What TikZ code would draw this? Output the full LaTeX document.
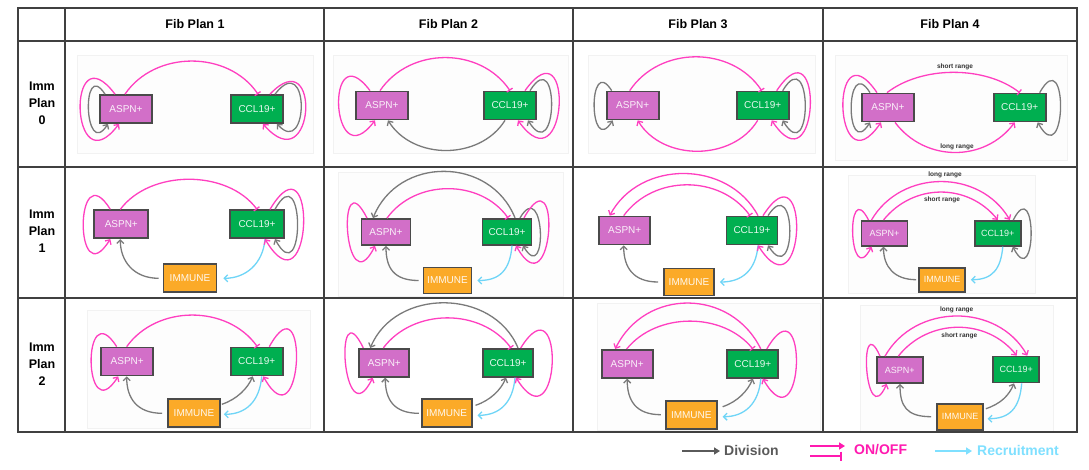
\documentclass[tikz,border=0pt]{standalone}
\usepackage{fontspec}
\setmainfont{Liberation Sans}
\usetikzlibrary{arrows.meta}
\definecolor{aspnc}{HTML}{D26FC8}
\definecolor{cclc}{HTML}{00AF50}
\definecolor{immc}{HTML}{FBAA28}
\definecolor{bordc}{HTML}{4A4A4A}
\definecolor{pinkc}{HTML}{FF3FC0}
\definecolor{divc}{HTML}{7A7A7A}
\definecolor{recc}{HTML}{6FD5F7}
\definecolor{divtext}{HTML}{5A5A5A}
\definecolor{ontext}{HTML}{FF1AB0}
\definecolor{rectext}{HTML}{7FE0FF}
\tikzset{
 box/.style={draw=bordc, line width=1.7pt, minimum width=52pt, minimum height=28pt, inner sep=1pt, font=\fontsize{10}{11}\selectfont},
 aspn/.style={box, fill=aspnc, text=white!90!aspnc},
 ccl/.style={box, fill=cclc, text=white!90!cclc},
 imm/.style={box, fill=immc, text=white!92!immc},
 sm/.style={minimum width=46pt, minimum height=25pt, font=\fontsize{9}{10}\selectfont},
 div/.style={draw=divc, line width=1.3pt, -{Straight Barb[length=3.5pt,width=7pt]}},
 onbar/.style={draw=pinkc, line width=1.3pt, -{Bar[width=7pt]}},
 onarr/.style={draw=pinkc, line width=1.3pt, -{Straight Barb[length=3.5pt,width=7pt]}},
 rec/.style={draw=recc, line width=1.3pt, -{Straight Barb[length=3.5pt,width=7pt]}},
 rng/.style={font=\bfseries\fontsize{6.5}{7}\selectfont, text=black!80, inner sep=0pt},
 hdr/.style={font=\bfseries\fontsize{12.5}{17}\selectfont, align=center},
 frame/.style={draw=black!5, fill=black!0.8, line width=0.5pt},
 grid/.style={draw=black!75, line width=1.2pt},
 leg/.style={font=\bfseries\fontsize{14}{16}\selectfont, anchor=west, inner sep=1pt},
 legarr/.style={line width=2pt, -{Triangle[length=6pt,width=7pt]}},
}
\begin{document}
\begin{tikzpicture}[x=1pt,y=-1pt]
\useasboundingbox (0,0) rectangle (1089,469);
\fill[white] (0,0) rectangle (1089,469);
% faint pasted-image frames
\path[frame] (77,55) rectangle (313,153);
\path[frame] (333,55) rectangle (568,153);
\path[frame] (588,55) rectangle (815,153);
\path[frame] (835,55) rectangle (1067,160);
\path[frame] (338,172) rectangle (563,296);
\path[frame] (848,175) rectangle (1035,293);
\path[frame] (87,310) rectangle (310,428);
\path[frame] (597,303) rectangle (820,430);
\path[frame] (860,305) rectangle (1053,431);
% table
\draw[grid] (18,8) rectangle (1077,432);
\draw[grid] (18,41) -- (1077,41) (18,167) -- (1077,167) (18,298) -- (1077,298);
\draw[grid] (65,8) -- (65,432) (324,8) -- (324,432) (573,8) -- (573,432) (823,8) -- (823,432);
% headers
\node[hdr] (h1) at (195,24.5) {Fib Plan 1};
\node[hdr] (h2) at (448.5,24.5) {Fib Plan 2};
\node[hdr] (h3) at (698,24.5) {Fib Plan 3};
\node[hdr] (h4) at (950,24.5) {Fib Plan 4};
\node[hdr] (r0) at (42,103.5) {Imm\\Plan\\0};
\node[hdr] (r1) at (42,231) {Imm\\Plan\\1};
\node[hdr] (r2) at (42,364) {Imm\\Plan\\2};
% ---------- row 0 ----------
% c1
\node[aspn] (a01) at (126,109) {ASPN+};
\node[ccl] (c01) at (257,109) {CCL19+};
\draw[onbar] ([xshift=-1pt]a01.north) .. controls +(30,-44) and +(-30,-44) .. ([xshift=1pt]c01.north);
\draw[div] ([xshift=-21pt]a01.north) .. controls +(-24,-37) and +(-24,37) .. ([xshift=-18pt]a01.south);
\draw[onarr] ([xshift=-11pt]a01.north) .. controls +(-49,-65) and +(-49,65) .. ([xshift=-7pt]a01.south);
\draw[div] ([xshift=18pt]c01.north) .. controls +(35,-45) and +(32,35) .. ([xshift=20pt]c01.south);
\draw[onarr] ([xshift=13pt]c01.north) .. controls +(52,-55) and +(52,60) .. ([xshift=6pt]c01.south);
% c2
\node[aspn] (a02) at (382,105.5) {ASPN+};
\node[ccl] (c02) at (510,105.5) {CCL19+};
\draw[onbar] ([xshift=-2pt]a02.north) .. controls +(30,-44) and +(-30,-44) .. (c02.north);
\draw[div] ([xshift=-5pt]c02.south) .. controls +(-25,40) and +(25,40) .. ([xshift=6pt]a02.south);
\draw[onarr] ([xshift=-12pt]a02.north) .. controls +(-45,-60) and +(-45,60) .. ([xshift=-7pt]a02.south);
\draw[div] ([xshift=20pt]c02.north) .. controls +(30,-48) and +(30,48) .. ([xshift=18pt]c02.south);
\draw[onarr] ([xshift=15pt]c02.north) .. controls +(50,-70) and +(50,70) .. ([xshift=8pt]c02.south);
% c3
\node[aspn] (a03) at (632.7,105.5) {ASPN+};
\node[ccl] (c03) at (762.7,105.5) {CCL19+};
\draw[onbar] ([xshift=-3pt]a03.north) .. controls +(30,-45) and +(-30,-45) .. ([xshift=-1pt]c03.north);
\draw[onarr] ([xshift=-5pt]c03.south) .. controls +(-25,41) and +(25,41) .. ([xshift=5pt]a03.south);
\draw[div] ([xshift=-21pt]a03.north) .. controls +(-24,-38) and +(-24,38) .. ([xshift=-20pt]a03.south);
\draw[div] ([xshift=20pt]c03.north) .. controls +(30,-50) and +(30,50) .. ([xshift=20pt]c03.south);
\draw[onarr] ([xshift=14pt]c03.north) .. controls +(48,-72) and +(48,72) .. ([xshift=9pt]c03.south);
% c4
\node[aspn] (a04) at (888,107.5) {ASPN+};
\node[ccl] (c04) at (1019.7,107.5) {CCL19+};
\draw[onbar] ([xshift=-1pt]a04.north) .. controls +(35,-27) and +(-35,-27) .. (c04.north);
\node[rng] (s04) at (955,67) {short range};
\draw[onarr] ([xshift=7pt]a04.south) .. controls +(30,40) and +(-30,40) .. ([xshift=-5pt]c04.south);
\node[rng] (l04) at (957,147) {long range};
\draw[div] ([xshift=-18pt]a04.north) .. controls +(-25,-40) and +(-25,40) .. ([xshift=-18pt]a04.south);
\draw[onarr] ([xshift=-11pt]a04.north) .. controls +(-48,-70) and +(-48,70) .. ([xshift=-7pt]a04.south);
\draw[div] ([xshift=20pt]c04.north) .. controls +(29,-52) and +(29,52) .. ([xshift=18pt]c04.south);
% ---------- row 1 ----------
% c1
\node[aspn, minimum width=54pt] (a11) at (121.3,224.2) {ASPN+};
\node[ccl, minimum width=54pt] (c11) at (257,224.2) {CCL19+};
\node[imm, minimum width=53pt] (i11) at (190,278.3) {IMMUNE};
\draw[onbar] ([xshift=-1pt]a11.north) .. controls +(30,-40) and +(-30,-40) .. (c11.north);
\draw[onarr] ([xshift=-11pt]a11.north) .. controls +(-36,-58) and +(-36,58) .. ([xshift=-11pt]a11.south);
\draw[div] ([xshift=-4pt]i11.west) .. controls +(-25,0) and +(0,22) .. ([xshift=-1pt]a11.south);
\draw[rec] ([xshift=8pt]c11.south) .. controls +(-2,25) and +(22,0) .. ([xshift=6pt]i11.east);
\draw[div] ([xshift=18pt]c11.north) .. controls +(30,-55) and +(30,55) .. ([xshift=18pt]c11.south);
\draw[onarr] ([xshift=13pt]c11.north) .. controls +(48,-80) and +(48,80) .. ([xshift=8pt]c11.south);
% c2
\node[aspn, minimum width=49pt, minimum height=26pt] (a12) at (386,232) {ASPN+};
\node[ccl, minimum width=49pt, minimum height=26pt] (c12) at (507,231.7) {CCL19+};
\node[imm, minimum width=48pt, minimum height=26pt] (i12) at (447.5,280.5) {IMMUNE};
\draw[div] ([xshift=8pt]c12.north) .. controls +(-25,-62) and +(25,-62) .. ([xshift=-13pt]a12.north);
\draw[onbar] ([xshift=1pt]a12.north) .. controls +(28,-39) and +(-28,-39) .. ([xshift=1pt]c12.north);
\draw[onarr] ([xshift=-19pt]a12.north) .. controls +(-31,-62) and +(-31,62) .. ([xshift=-11pt]a12.south);
\draw[div] ([xshift=-4pt]i12.west) .. controls +(-25,0) and +(0,22) .. (a12.south);
\draw[rec] ([xshift=5pt]c12.south) .. controls +(-2,25) and +(22,0) .. ([xshift=5pt]i12.east);
\draw[div] ([xshift=13pt]c12.north) .. controls +(25,-42) and +(25,42) .. ([xshift=16pt]c12.south);
\draw[onarr] ([xshift=17pt]c12.north) .. controls +(38,-68) and +(38,68) .. ([xshift=9pt]c12.south);
% c3
\node[aspn, minimum width=51pt] (a13) at (624.7,230.5) {ASPN+};
\node[ccl, minimum width=51pt] (c13) at (752,230.5) {CCL19+};
\node[imm, minimum width=50pt, minimum height=27pt] (i13) at (689,282) {IMMUNE};
\draw[onarr] ([xshift=6pt]c13.north) .. controls +(-30,-56) and +(30,-56) .. ([xshift=-15pt]a13.north);
\draw[onbar] ([xshift=-1pt]a13.north) .. controls +(30,-41) and +(-30,-41) .. ([xshift=-2pt]c13.north);
\draw[div] ([xshift=-5pt]i13.west) .. controls +(-25,0) and +(0,22) .. ([xshift=-1pt]a13.south);
\draw[rec] ([xshift=6pt]c13.south) .. controls +(-2,25) and +(22,0) .. ([xshift=5pt]i13.east);
\draw[div] ([xshift=16pt]c13.north) .. controls +(29,-45) and +(29,45) .. ([xshift=16pt]c13.south);
\draw[onarr] ([xshift=11pt]c13.north) .. controls +(48,-75) and +(48,75) .. ([xshift=6pt]c13.south);
% c4
\node[aspn, sm] (a14) at (884.5,233.3) {ASPN+};
\node[ccl, sm] (c14) at (997.8,233.3) {CCL19+};
\node[imm, sm, minimum height=24pt] (i14) at (942,279.7) {IMMUNE};
\draw[onarr] ([xshift=-13pt]a14.north) .. controls +(30,-51) and +(-30,-51) .. ([xshift=12pt]c14.north);
\node[rng] (l14) at (945,175) {long range};
\draw[onarr] ([xshift=-1pt]a14.north) .. controls +(30,-37) and +(-30,-37) .. (c14.north);
\node[rng] (s14) at (942,200) {short range};
\draw[onarr] ([xshift=-16pt]a14.north) .. controls +(-23,-45) and +(-23,45) .. ([xshift=-13pt]a14.south);
\draw[div] ([xshift=-2pt]i14.west) .. controls +(-22,0) and +(0,20) .. ([xshift=-1pt]a14.south);
\draw[rec] ([xshift=5pt]c14.south) .. controls +(-2,22) and +(22,0) .. ([xshift=5pt]i14.east);
\draw[div] ([xshift=15.5pt]c14.north) .. controls +(24,-47) and +(24,47) .. ([xshift=15pt]c14.south);
% ---------- row 2 ----------
% c1
\node[aspn] (a21) at (127.2,361.5) {ASPN+};
\node[ccl] (c21) at (256.7,361.5) {CCL19+};
\node[imm] (i21) at (194,413.3) {IMMUNE};
\draw[onbar] ([xshift=-0.5pt]a21.north) .. controls +(30,-42) and +(-30,-42) .. ([xshift=0.6pt]c21.north);
\draw[onarr] ([xshift=-10.5pt]a21.north) .. controls +(-35,-55) and +(-35,55) .. ([xshift=-9pt]a21.south);
\draw[div] ([xshift=-5pt]i21.west) .. controls +(-25,0) and +(0,22) .. ([xshift=-0.5pt]a21.south);
\draw[div] ([xshift=1pt,yshift=9pt]i21.east) .. controls +(15,-5) and +(-5,12) .. ([xshift=-4pt]c21.south);
\draw[rec] ([xshift=5pt]c21.south) .. controls +(-2,25) and +(22,0) .. ([xshift=3pt,yshift=-1pt]i21.east);
\draw[onarr] ([xshift=12.6pt]c21.north) .. controls +(40,-72) and +(40,72) .. ([xshift=6.6pt]c21.south);
% c2
\node[aspn, minimum width=50pt] (a22) at (384.3,362.8) {ASPN+};
\node[ccl, minimum width=50pt] (c22) at (508,362.8) {CCL19+};
\node[imm, minimum width=50pt] (i22) at (446.7,413.3) {IMMUNE};
\draw[div] ([xshift=10pt]c22.north) .. controls +(-25,-60) and +(25,-60) .. ([xshift=-14pt]a22.north);
\draw[onbar] ([xshift=-1pt]a22.north) .. controls +(30,-40) and +(-30,-40) .. ([xshift=3pt]c22.north);
\draw[onarr] ([xshift=-21pt]a22.north) .. controls +(-30,-62) and +(-30,62) .. ([xshift=-11.6pt]a22.south);
\draw[div] ([xshift=-2pt]i22.west) .. controls +(-25,0) and +(0,22) .. ([xshift=1pt]a22.south);
\draw[div] ([xshift=3pt,yshift=8pt]i22.east) .. controls +(15,-5) and +(-5,12) .. ([xshift=-2pt]c22.south);
\draw[rec] ([xshift=7pt]c22.south) .. controls +(-2,25) and +(22,0) .. ([xshift=5pt,yshift=-2pt]i22.east);
\draw[onarr] ([xshift=12.7pt]c22.north) .. controls +(45,-72) and +(45,72) .. ([xshift=8pt]c22.south);
% c3
\node[aspn, minimum width=51pt] (a23) at (627.2,363.8) {ASPN+};
\node[ccl, minimum width=51pt] (c23) at (752.8,363.8) {CCL19+};
\node[imm, minimum width=51pt] (i23) at (691.3,414.7) {IMMUNE};
\draw[onarr] ([xshift=8pt]c23.north) .. controls +(-30,-61) and +(30,-61) .. ([xshift=-12pt]a23.north);
\draw[onbar] ([xshift=-0.5pt]a23.north) .. controls +(30,-37) and +(-30,-37) .. (c23.north);
\draw[div] ([xshift=-4pt]i23.west) .. controls +(-25,0) and +(0,22) .. (a23.south);
\draw[div] ([xshift=5pt,yshift=8pt]i23.east) .. controls +(15,-5) and +(-5,12) .. (c23.south);
\draw[rec] ([xshift=8pt]c23.south) .. controls +(-2,25) and +(22,0) .. ([xshift=5pt,yshift=-2pt]i23.east);
\draw[onarr] ([xshift=14pt]c23.north) .. controls +(42,-72) and +(42,72) .. ([xshift=10pt]c23.south);
% c4
\node[aspn, sm, minimum height=26pt] (a24) at (899.7,370) {ASPN+};
\node[ccl, sm, minimum height=26pt] (c24) at (1016.3,369.5) {CCL19+};
\node[imm, sm, minimum height=26pt] (i24) at (960,416.7) {IMMUNE};
\draw[onarr] ([xshift=-14.7pt]a24.north) .. controls +(30,-53) and +(-30,-53) .. ([xshift=11pt]c24.north);
\node[rng] (l24) at (956.7,310) {long range};
\draw[onarr] ([xshift=-1.4pt]a24.north) .. controls +(30,-38) and +(-30,-38) .. ([xshift=0.4pt]c24.north);
\node[rng] (s24) at (959.3,336) {short range};
\draw[onarr] ([xshift=-19.7pt]a24.north) .. controls +(-22,-50) and +(-22,50) .. ([xshift=-13pt]a24.south);
\draw[div] ([xshift=-5pt]i24.west) .. controls +(-25,0) and +(0,22) .. ([xshift=0.3pt]a24.south);
\draw[div] ([xshift=2pt,yshift=8pt]i24.east) .. controls +(15,-5) and +(-5,12) .. ([xshift=-2.3pt]c24.south);
\draw[rec] ([xshift=5.4pt]c24.south) .. controls +(-2,25) and +(22,0) .. ([xshift=3.7pt,yshift=-2pt]i24.east);
% ---------- legend ----------
\coordinate (d1) at (682,451);
\coordinate (d2) at (720,451);
\draw[legarr, draw=divtext, fill=divtext] (d1) -- (d2);
\node[leg, text=divtext] (ldiv) at (723,450) {Division};
\coordinate (o1) at (810,446);
\coordinate (o2) at (845,446);
\coordinate (o3) at (810,456);
\coordinate (o4) at (842,456);
\draw[legarr, draw=ontext, fill=ontext] (o1) -- (o2);
\draw[draw=ontext, line width=2pt, -{Bar[width=9pt]}] (o3) -- (o4);
\node[leg, text=ontext] (lon) at (853,450) {ON/OFF};
\coordinate (b1) at (935,451);
\coordinate (b2) at (972,451);
\draw[legarr, draw=rectext, fill=rectext] (b1) -- (b2);
\node[leg, text=rectext] (lrec) at (976,450) {Recruitment};
\end{tikzpicture}
\end{document}
